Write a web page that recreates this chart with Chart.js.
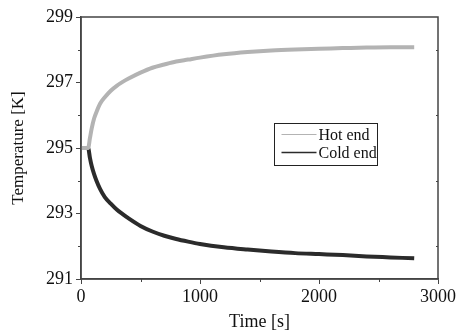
<!DOCTYPE html>
<html>
<head>
<meta charset="utf-8">
<script src="https://cdn.jsdelivr.net/npm/chart.js@4.4.0/dist/chart.umd.min.js"></script>
<style>
  html, body { margin: 0; padding: 0; background: #fff; }
  #wrap { width: 458px; height: 334px; }
</style>
</head>
<body>
<div id="wrap"><canvas id="chart" width="458" height="334"></canvas></div>
<script>
// Data
var times = [0, 40, 60, 75, 90, 110, 130, 160, 200, 250, 300, 350, 400, 500, 600, 700, 800, 900, 1000, 1200, 1400, 1600, 1800, 2000, 2200, 2400, 2600, 2800];
var hotEnd = [295, 295, 295, 295.3, 295.6, 295.9, 296.1, 296.35, 296.55, 296.75, 296.9, 297.02, 297.12, 297.3, 297.45, 297.55, 297.64, 297.7, 297.76, 297.86, 297.93, 297.98, 298.01, 298.03, 298.05, 298.07, 298.08, 298.08];
var coldEnd = [295, 295, 295, 294.7, 294.45, 294.2, 294.0, 293.75, 293.5, 293.3, 293.12, 292.98, 292.85, 292.62, 292.45, 292.32, 292.22, 292.14, 292.07, 291.97, 291.9, 291.84, 291.79, 291.76, 291.73, 291.69, 291.66, 291.63];
var xTicks = [0, 1000, 2000, 3000];
var yTicks = [291, 293, 295, 297, 299];
var xMinor = [500, 1500, 2500];
var yMinor = [292, 294, 296, 298];
var seriesNames = ['Hot end', 'Cold end'];

var FONT = '"Liberation Serif", "Times New Roman", serif';
var AXIS = '#444';
var HOT = '#b3b3b3';
var COLD = '#2b2b2b';

function toPoints(ys) {
    return times.map(function(t, i) { return { x: t, y: ys[i] }; });
}

// Frame, minor ticks and legend box
var extras = {
    id: 'extras',
    afterDraw: function(chart) {
        var ctx = chart.ctx;
        var a = chart.chartArea;
        var xs = chart.scales.x, ys = chart.scales.y;
        ctx.save();
        ctx.strokeStyle = AXIS;
        ctx.lineWidth = 1.5;
        ctx.strokeRect(a.left, a.top, a.right - a.left, a.bottom - a.top);
        ctx.lineWidth = 1;
        xMinor.forEach(function(v) {
            var px = Math.round(xs.getPixelForValue(v)) + 0.5;
            ctx.beginPath(); ctx.moveTo(px, a.bottom); ctx.lineTo(px, a.bottom + 3); ctx.stroke();
        });
        yMinor.forEach(function(v) {
            var py = Math.round(ys.getPixelForValue(v)) + 0.5;
            ctx.beginPath(); ctx.moveTo(a.left, py); ctx.lineTo(a.left - 3, py); ctx.stroke();
            ctx.beginPath(); ctx.moveTo(a.right, py); ctx.lineTo(a.right - 2, py); ctx.stroke();
        });

        // legend
        var lx = 274.5, ly = 123.5, lw = 103, lh = 42;
        ctx.strokeStyle = '#222';
        ctx.strokeRect(lx, ly, lw, lh);
        ctx.font = '16px ' + FONT;
        ctx.textBaseline = 'middle';
        ctx.fillStyle = '#111';
        [HOT, COLD].forEach(function(c, i) {
            var y = ly + 11 + i * 18;
            ctx.strokeStyle = c;
            ctx.lineWidth = i === 0 ? 1 : 1.5;
            ctx.beginPath(); ctx.moveTo(lx + 7, y); ctx.lineTo(lx + 42, y); ctx.stroke();
            ctx.fillText(seriesNames[i], lx + 44, y + 1);
        });
        ctx.restore();
    }
};

new Chart(document.getElementById('chart'), {
    type: 'line',
    data: {
        datasets: [{
            label: seriesNames[0],
            data: toPoints(hotEnd),
            borderColor: HOT,
            borderWidth: 4,
            pointRadius: 0,
            cubicInterpolationMode: 'monotone'
        }, {
            label: seriesNames[1],
            data: toPoints(coldEnd),
            borderColor: COLD,
            borderWidth: 4,
            pointRadius: 0,
            cubicInterpolationMode: 'monotone'
        }]
    },
    options: {
        responsive: false,
        animation: false,
        layout: { padding: { top: 17, right: 20, left: 0, bottom: 0 } },
        plugins: { legend: { display: false }, tooltip: { enabled: false } },
        scales: {
            x: {
                type: 'linear',
                min: 0,
                max: 3000,
                afterBuildTicks: function(s) { s.ticks = xTicks.map(function(v) { return { value: v }; }); },
                afterFit: function(s) { s.height = 55; },
                border: { color: AXIS, width: 1.5 },
                grid: { drawOnChartArea: false, tickLength: 5, color: AXIS },
                ticks: { color: '#111', font: { family: FONT, size: 18 }, padding: 2, maxRotation: 0,
                    callback: function(v) { return String(v); } },
                title: { display: true, text: 'Time [s]', color: '#111', font: { family: FONT, size: 18 }, padding: { top: 0, bottom: 1 } }
            },
            y: {
                min: 291,
                max: 299,
                afterBuildTicks: function(s) { s.ticks = yTicks.map(function(v) { return { value: v }; }); },
                afterFit: function(s) { s.width = 81; },
                border: { color: AXIS, width: 1.5 },
                grid: { drawOnChartArea: false, tickLength: 5, color: AXIS },
                ticks: { color: '#111', font: { family: FONT, size: 18 }, padding: 3,
                    callback: function(v) { return String(v); } },
                title: { display: true, text: 'Temperature [K]', color: '#111', font: { family: FONT, size: 17 }, padding: { top: 8, bottom: 0 } }
            }
        }
    },
    plugins: [extras]
});
</script>
</body>
</html>
